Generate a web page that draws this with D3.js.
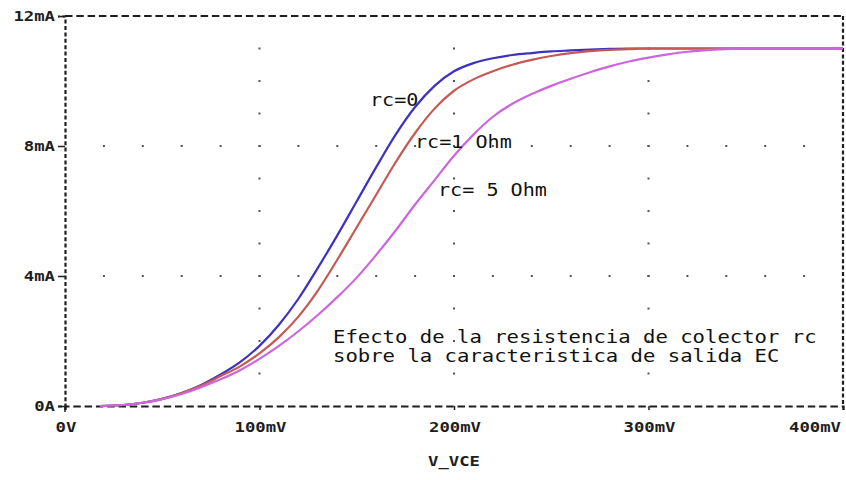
<!DOCTYPE html>
<html>
<head>
<meta charset="utf-8">
<script src="https://cdn.jsdelivr.net/npm/d3@7"></script>
<style>
  html, body { margin: 0; padding: 0; background: #fff; }
  svg { display: block; }
</style>
</head>
<body>
<svg id="chart" width="846" height="480"></svg>
<script>
// ---- data (mV, mA) ----
const vce    = [18,30,40,50,60,70,80,90,100,110,120,130,140,150,160,170,180,190,200,210,220,230,240,250,260,270,280,290,300,310,320,330,340,350,400];
const ic_rc0 = [0,0.03,0.1,0.22,0.4,0.65,0.97,1.35,1.85,2.5,3.3,4.25,5.25,6.3,7.35,8.35,9.2,9.85,10.3,10.55,10.7,10.8,10.86,10.91,10.94,10.97,10.99,11.0,11.0,11.0,11.0,11.0,11.0,11.0,11.0];
const ic_rc1 = [0,0.03,0.1,0.22,0.4,0.63,0.92,1.22,1.62,2.12,2.75,3.55,4.5,5.5,6.5,7.5,8.4,9.15,9.7,10.05,10.3,10.5,10.65,10.77,10.86,10.92,10.96,10.98,11.0,11.0,11.0,11.0,11.0,11.0,11.0];
const ic_rc5 = [0,0.03,0.1,0.21,0.37,0.58,0.82,1.1,1.45,1.85,2.3,2.8,3.35,3.95,4.65,5.4,6.2,6.95,7.7,8.35,8.9,9.3,9.6,9.85,10.07,10.27,10.45,10.6,10.72,10.82,10.9,10.95,10.98,11.0,11.0];
const seriesNames = ["rc=0", "rc=1 Ohm", "rc= 5 Ohm"];
const seriesColors = ["#3f30c2", "#c65a52", "#cc66dd"];
const xTickValues = [0, 100, 200, 300, 400];
const xTickLabels = ["0V", "100mV", "200mV", "300mV", "400mV"];
const yTickValues = [0, 4, 8, 12];
const yTickLabels = ["0A", "4mA", "8mA", "12mA"];
const xAxisTitle = "V_VCE";
const noteLines = ["Efecto de la resistencia de colector rc", "sobre la caracteristica de salida EC"];

// ---- layout ----
const svg = d3.select("#chart");
const x = d3.scaleLinear().domain([0, 400]).range([65, 843]);
const y = d3.scaleLinear().domain([0, 12]).range([406, 16]);
const ink = "#1e1e1e";

// grid dots
const dots = [];
[100, 200, 300].forEach(xv => { for (let m = 1; m <= 11; m++) dots.push([xv, m]); });
[4, 8].forEach(yv => { for (let v = 20; v < 400; v += 20) dots.push([v, yv]); });
svg.append("g").selectAll("rect").data(dots).join("rect")
  .attr("x", d => x(d[0]) - 1).attr("y", d => y(d[1]) - 1)
  .attr("width", 2).attr("height", 2).attr("fill", "#555");

// frame: top and right dashed
svg.append("line").attr("x1", x(0)).attr("x2", x(400)).attr("y1", y(12)).attr("y2", y(12))
  .attr("stroke", ink).attr("stroke-width", 2.2).attr("stroke-dasharray", "7.5,3.8");
svg.append("line").attr("x1", x(400)).attr("x2", x(400)).attr("y1", y(12)).attr("y2", y(0))
  .attr("stroke", ink).attr("stroke-width", 2.2).attr("stroke-dasharray", "4,2.4");

// axes
const yAxis = d3.axisLeft(y).tickValues(yTickValues).tickSize(7).tickFormat("");
const gy = svg.append("g").attr("transform", `translate(${x(0)},0)`).call(yAxis);
gy.select(".domain").attr("stroke", ink).attr("stroke-width", 2.2).attr("stroke-dasharray", "4,2.4");
gy.selectAll(".tick line").attr("stroke", ink).attr("stroke-width", 1.5);

const xAxis = d3.axisBottom(x).tickValues(xTickValues).tickSize(4).tickFormat("");
const gx = svg.append("g").attr("transform", `translate(0,${y(0)})`).call(xAxis);
gx.select(".domain").attr("stroke", ink).attr("stroke-width", 2.2).attr("stroke-dasharray", "7.5,3.8");
gx.selectAll(".tick line").attr("stroke", ink).attr("stroke-width", 1.5);
svg.append("line").attr("x1", x(0)).attr("x2", x(0)).attr("y1", y(0)).attr("y2", y(0) + 6)
  .attr("stroke", ink).attr("stroke-width", 1.5);

// tick labels
const tickFont = "'DejaVu Sans Mono', monospace";
svg.append("g").selectAll("text").data(yTickValues).join("text")
  .attr("x", 55).attr("y", d => y(d)).attr("dy", "0.36em")
  .attr("text-anchor", "end")
  .attr("font-family", tickFont).attr("font-weight", "bold").attr("font-size", 14)
  .attr("fill", ink)
  .attr("textLength", (d, i) => yTickLabels[i].length * 10.4).attr("lengthAdjust", "spacingAndGlyphs")
  .text((d, i) => yTickLabels[i]);

svg.append("g").selectAll("text").data(xTickValues).join("text")
  .attr("x", d => d === 400 ? 841 : x(d) + 1).attr("y", 427).attr("dy", "0.36em")
  .attr("text-anchor", d => d === 400 ? "end" : "middle")
  .attr("font-family", tickFont).attr("font-weight", "bold").attr("font-size", 14)
  .attr("fill", ink)
  .attr("textLength", (d, i) => xTickLabels[i].length * 10.4).attr("lengthAdjust", "spacingAndGlyphs")
  .text((d, i) => xTickLabels[i]);

svg.append("text").attr("x", x(200)).attr("y", 461).attr("dy", "0.36em")
  .attr("text-anchor", "middle")
  .attr("font-family", tickFont).attr("font-weight", "bold").attr("font-size", 14)
  .attr("fill", ink)
  .attr("textLength", xAxisTitle.length * 10.4).attr("lengthAdjust", "spacingAndGlyphs")
  .text(xAxisTitle);

// curves
const series = [ic_rc0, ic_rc1, ic_rc5];
const line = d3.line().x((d, i) => x(vce[i])).y(d => y(d)).curve(d3.curveMonotoneX);
svg.append("g").selectAll("path").data(series).join("path")
  .attr("d", d => line(d))
  .attr("fill", "none")
  .attr("stroke", (d, i) => seriesColors[i])
  .attr("stroke-width", 2.2);

// series labels
const labelPos = [[370, 100], [415, 142], [438, 190]];
const annFont = "'DejaVu Sans Mono', monospace";
svg.append("g").selectAll("text").data(seriesNames).join("text")
  .attr("x", (d, i) => labelPos[i][0]).attr("y", (d, i) => labelPos[i][1]).attr("dy", "0.36em")
  .attr("font-family", annFont).attr("font-size", 18).attr("fill", "#111")
  .attr("textLength", d => d.length * 12.1).attr("lengthAdjust", "spacingAndGlyphs")
  .text(d => d);

// note
svg.append("g").selectAll("text").data(noteLines).join("text")
  .attr("x", 333).attr("y", (d, i) => 343 + i * 19)
  .attr("font-family", annFont).attr("font-size", 18).attr("fill", "#111")
  .attr("textLength", d => d.length * 12.4).attr("lengthAdjust", "spacingAndGlyphs")
  .text(d => d);
</script>
</body>
</html>
